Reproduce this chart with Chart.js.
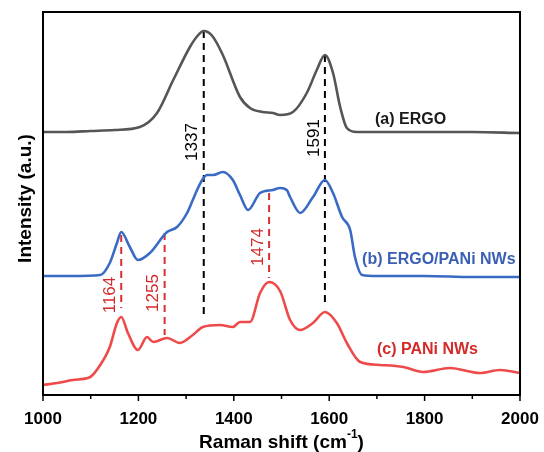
<!DOCTYPE html>
<html>
<head>
<meta charset="utf-8">
<script src="https://cdn.jsdelivr.net/npm/chart.js@4.4.1/dist/chart.umd.min.js"></script>
<style>
  html, body { margin: 0; padding: 0; background: #fff; }
  #wrap { width: 544px; height: 452px; }
</style>
</head>
<body>
<div id="wrap"><canvas id="raman"></canvas></div>
<script>
// Spectra (x = Raman shift, y = stacked intensity, a.u.)
const ergoX = [1000, 1050, 1100, 1150, 1203, 1239, 1273, 1308, 1322, 1337, 1355, 1377, 1413, 1434, 1460, 1482, 1497, 1524, 1553, 1574, 1591, 1608, 1623, 1637, 1658, 1700, 1800, 1900, 2000];
const ergoY = [263, 263, 264, 265, 268, 282, 315, 348, 358, 364, 359, 340, 298, 287, 283, 282, 280, 283, 302, 325, 340, 322, 288, 267, 263, 263, 263, 263, 262];

const compX = [1000, 1060, 1120, 1140, 1155, 1164, 1182, 1199, 1224, 1260, 1281, 1302, 1314, 1323, 1335, 1344, 1357, 1377, 1398, 1413, 1430, 1455, 1482, 1497, 1511, 1518, 1539, 1566, 1591, 1608, 1627, 1644, 1654, 1669, 1700, 1800, 1900, 2000];
const compY = [119, 119, 120, 132, 152, 163, 148, 135, 142, 163, 168, 182, 195, 205, 216, 220, 220, 223, 215, 200, 185, 202, 205, 207, 205, 198, 182, 198, 215, 202, 178, 165, 138, 120, 119, 119, 118, 118];

const paniX = [1000, 1030, 1063, 1099, 1120, 1140, 1155, 1164, 1178, 1199, 1218, 1231, 1260, 1287, 1314, 1335, 1371, 1398, 1413, 1434, 1455, 1474, 1497, 1518, 1539, 1566, 1591, 1616, 1637, 1665, 1707, 1755, 1797, 1853, 1916, 1958, 2000];
const paniY = [10, 12, 15, 18, 30, 48, 72, 78, 62, 45, 58, 53, 57, 52, 60, 68, 70, 68, 73, 73, 102, 113, 104, 75, 65, 72, 83, 72, 52, 33, 30, 28, 23, 27, 22, 25, 22];

// Peak markers: position, dashed line top/bottom, label height
const peakPos   = [1337, 1591, 1164, 1255, 1474];
const peakTop   = [364, 340, 160, 162, 202];
const peakBot   = [80, 90, 87, 60, 117];
const peakTextY = [253, 257, 100, 102, 148];
const peakColor = ['#000000', '#000000', '#d83030', '#d83030', '#d83030'];

// Curve names
const curveNames  = ['(a) ERGO', '(b) ERGO/PANi NWs', '(c) PANi NWs'];
const curveNameX  = [1696, 1669, 1700];
const curveNameY  = [275, 135, 45];
const curveColors = ['#555555', '#3a6bc4', '#ef4a4a'];
const nameColors  = ['#1a1a1a', '#3a5fb5', '#d42a2a'];

const xTicks = [1000, 1200, 1400, 1600, 1800, 2000];

function toPoints(xs, ys) {
  return xs.map((x, i) => ({ x: x, y: ys[i] }));
}

const datasets = [
  { data: toPoints(ergoX, ergoY), borderColor: curveColors[0] },
  { data: toPoints(compX, compY), borderColor: curveColors[1] },
  { data: toPoints(paniX, paniY), borderColor: curveColors[2] }
].map(d => Object.assign(d, { borderWidth: 2.6, pointRadius: 0, cubicInterpolationMode: 'monotone', fill: false }));

peakPos.forEach((p, i) => {
  datasets.push({
    data: [{ x: p, y: peakTop[i] }, { x: p, y: peakBot[i] }],
    borderColor: peakColor[i],
    borderWidth: 2,
    borderDash: [7, 5],
    pointRadius: 0,
    tension: 0
  });
});

const FONT = '"Liberation Sans", Arial, sans-serif';

// Frame, tick marks, rotated labels and curve names
const decorations = {
  id: 'decorations',
  afterDraw(chart) {
    const ctx = chart.ctx;
    const area = chart.chartArea;
    const xs = chart.scales.x;
    const ys = chart.scales.y;
    ctx.save();

    ctx.strokeStyle = '#000';
    ctx.lineWidth = 2;
    ctx.strokeRect(area.left, area.top, area.right - area.left, area.bottom - area.top);

    // tick marks below the axis
    ctx.lineWidth = 1.5;
    for (let v = 1000; v <= 2000; v += 100) {
      const px = xs.getPixelForValue(v);
      const len = v % 200 === 0 ? 6 : 4;
      ctx.beginPath();
      ctx.moveTo(px, area.bottom);
      ctx.lineTo(px, area.bottom + len);
      ctx.stroke();
    }

    // peak labels
    ctx.font = '17px ' + FONT;
    ctx.textAlign = 'center';
    ctx.textBaseline = 'middle';
    peakPos.forEach((p, i) => {
      ctx.save();
      ctx.translate(xs.getPixelForValue(p) - 11, ys.getPixelForValue(peakTextY[i]));
      ctx.rotate(-Math.PI / 2);
      ctx.fillStyle = peakColor[i] === '#000000' ? '#000' : '#d42a2a';
      ctx.fillText(String(p), 0, 0);
      ctx.restore();
    });

    // curve names
    ctx.font = 'bold 16px ' + FONT;
    ctx.textAlign = 'left';
    curveNames.forEach((n, i) => {
      ctx.fillStyle = nameColors[i];
      ctx.fillText(n, xs.getPixelForValue(curveNameX[i]), ys.getPixelForValue(curveNameY[i]));
    });

    // y axis title
    ctx.save();
    ctx.translate(26, (area.top + area.bottom) / 2 - 5);
    ctx.rotate(-Math.PI / 2);
    ctx.textAlign = 'center';
    ctx.fillStyle = '#000';
    ctx.font = 'bold 19px ' + FONT;
    ctx.fillText('Intensity (a.u.)', 0, 0);
    ctx.restore();

    // x axis title with superscript
    ctx.fillStyle = '#000';
    ctx.textAlign = 'left';
    const t1 = 'Raman shift (cm';
    const t2 = '-1';
    const t3 = ')';
    ctx.font = 'bold 19px ' + FONT;
    const w1 = ctx.measureText(t1).width;
    const w3 = ctx.measureText(t3).width;
    ctx.font = 'bold 12px ' + FONT;
    const w2 = ctx.measureText(t2).width;
    const startX = (area.left + area.right) / 2 - (w1 + w2 + w3) / 2;
    const baseY = 443;
    ctx.font = 'bold 19px ' + FONT;
    ctx.fillText(t1, startX, baseY);
    ctx.font = 'bold 12px ' + FONT;
    ctx.fillText(t2, startX + w1, baseY - 8);
    ctx.font = 'bold 19px ' + FONT;
    ctx.fillText(t3, startX + w1 + w2, baseY);

    ctx.restore();
  }
};

new Chart(document.getElementById('raman'), {
  type: 'line',
  data: { datasets: datasets },
  options: {
    responsive: true,
    maintainAspectRatio: false,
    animation: false,
    layout: { padding: { top: 12, right: 24, left: 0, bottom: 0 } },
    plugins: { legend: { display: false }, tooltip: { enabled: false } },
    scales: {
      x: {
        type: 'linear',
        min: 1000,
        max: 2000,
        afterFit: s => { s.height = 57; s.paddingLeft = 0; s.paddingRight = 0; },
        afterBuildTicks: s => { s.ticks = xTicks.map(v => ({ value: v })); },
        grid: { display: false, drawTicks: false },
        border: { display: false },
        ticks: {
          padding: 14,
          color: '#000',
          callback: v => String(v),
          font: { family: FONT, size: 17, weight: 'bold' }
        }
      },
      y: {
        min: 0,
        max: 383,
        afterFit: s => { s.width = 43; },
        grid: { display: false, drawTicks: false },
        border: { display: false },
        ticks: { display: false }
      }
    }
  },
  plugins: [decorations]
});
</script>
</body>
</html>
